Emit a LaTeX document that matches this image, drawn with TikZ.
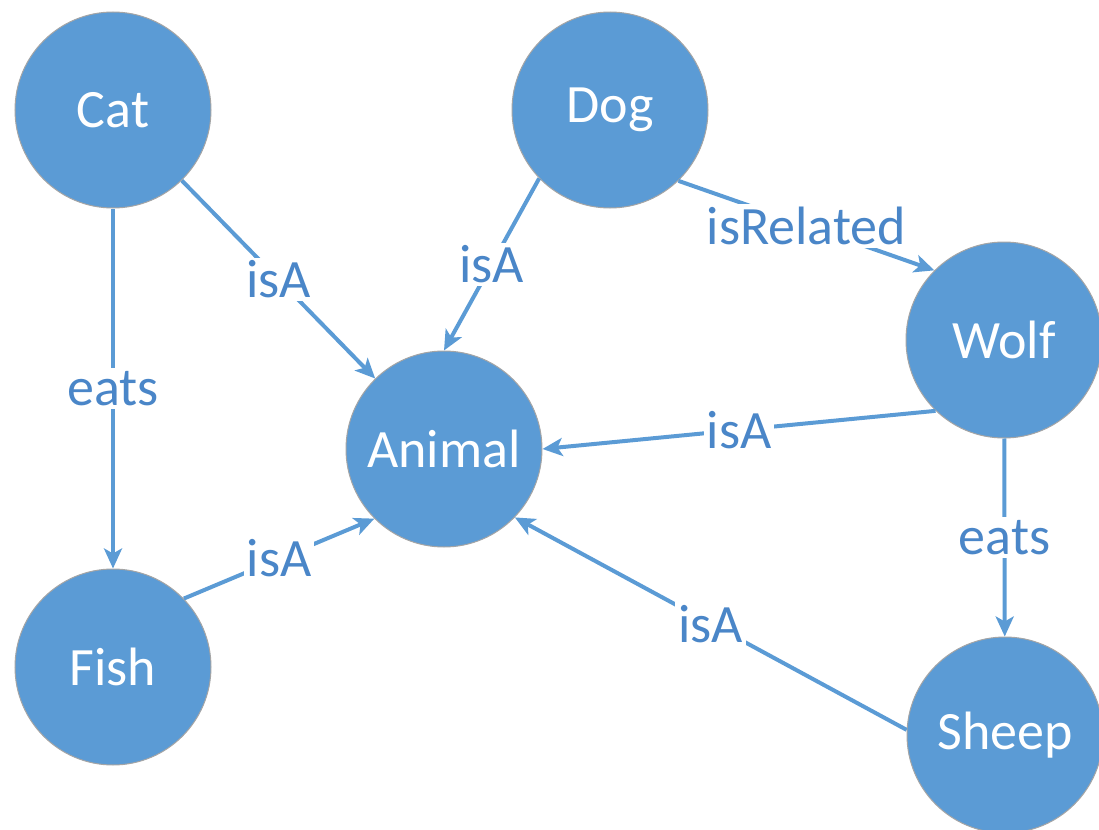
\documentclass[tikz,border=0pt]{standalone}
\usepackage{fontspec}
\setmainfont{Carlito}
\usetikzlibrary{arrows.meta}
\definecolor{nodeblue}{HTML}{5B9BD5}
\definecolor{labelblue}{HTML}{4A86C8}
\definecolor{rimgrey}{HTML}{A5A5A5}

\begin{document}
\begin{tikzpicture}[x=0.5pt,y=-0.5pt]
      \tikzstyle{concept}=[circle,draw=rimgrey,line width=0.5pt,fill=nodeblue,text=white,minimum size=98pt,inner sep=0pt,font=\fontsize{27}{32}\selectfont]
      \tikzstyle{relation}=[draw=nodeblue,line width=2pt,-{Stealth[length=10pt,width=9pt,inset=2.5pt]}]
      \tikzstyle{rel}=[fill=white,text=labelblue,inner sep=1.5pt,font=\fontsize{27}{32}\selectfont]
      % Page frame
      \useasboundingbox (0,0) rectangle (1099,830);
      \clip (0,0) rectangle (1099,830);
      % Concepts
      \node (cat) at (113,110) [concept] {Cat};
      \node (dog) at (610,110) [concept] {Dog};
      \node (animal) at (444,449) [concept] {Animal};
      \node (wolf) at (1004,340) [concept] {Wolf};
      \node (fish) at (113,667) [concept] {Fish};
      \node (sheep) at (1005,735) [concept] {Sheep};
      % isA links
      \draw (cat) -- node[rel] {isA} (animal) [relation];
      \draw (dog.224) -- node[rel] {isA} (animal.90) [relation];
      \draw (fish.44) -- node[rel] {isA} (animal.225) [relation];
      \draw (wolf.226) -- node[rel] {isA} (animal.0) [relation];
      \draw (sheep.177) -- node[rel] {isA} (animal.-44) [relation];
      % Other links
      \draw (dog.-46) -- node[rel] {isRelated} (wolf.135) [relation];
      \draw (cat) -- node[rel] {eats} (fish) [relation];
      \draw (wolf) -- node[rel] {eats} (sheep) [relation];
    \end{tikzpicture}
\end{document}
